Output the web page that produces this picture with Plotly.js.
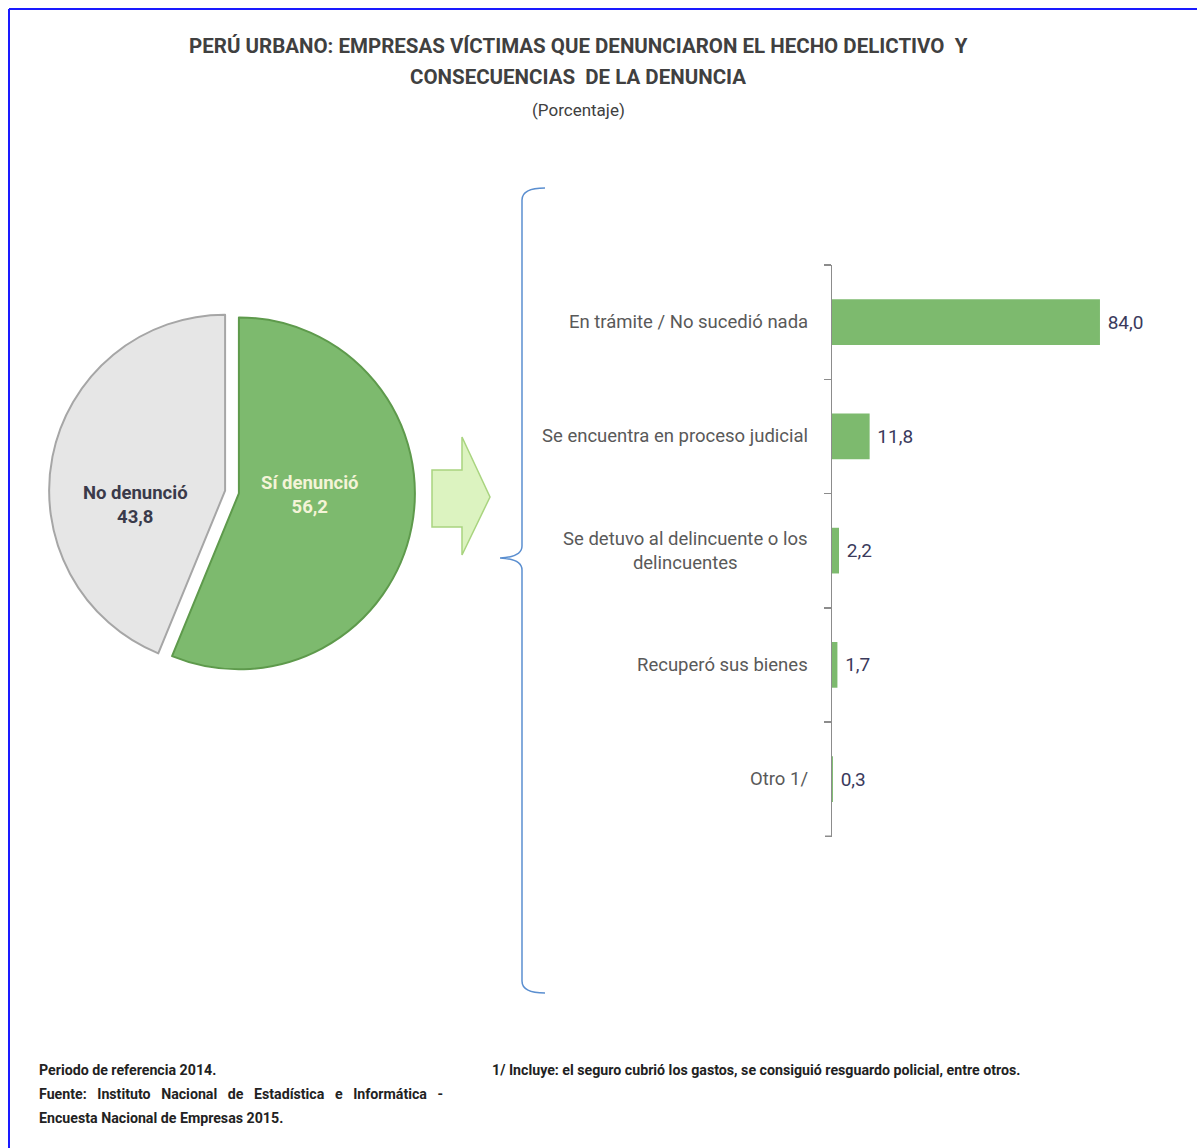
<!DOCTYPE html>
<html>
<head>
<meta charset="utf-8">
<script src="https://cdn.plot.ly/plotly-3.0.1.min.js"></script>
<style>html,body{margin:0;padding:0;background:#fff;}#chart{width:1197px;height:1148px;}</style>
</head>
<body>
<div id="chart"></div>
<script>
// ---- Data ----
const pieLabels = ["Sí denunció", "No denunció"];
const pieValues = [56.2, 43.8];
const barCategories = [
  "En trámite / No sucedió nada",
  "Se encuentra en proceso judicial",
  "Se detuvo al delincuente o los<br>delincuentes",
  "Recuperó sus bienes",
  "Otro 1/"
];
const barValues = [84.0, 11.8, 2.2, 1.7, 0.3];
const titleLines = ["PERÚ URBANO: EMPRESAS VÍCTIMAS QUE DENUNCIARON EL HECHO DELICTIVO  Y", "CONSECUENCIAS  DE LA DENUNCIA"];
const subtitle = "(Porcentaje)";
const footLeft = ["Periodo de referencia 2014.", "Fuente:   Instituto   Nacional   de   Estadística   e   Informática   -", "Encuesta Nacional de Empresas 2015."];
const footRight = "1/ Incluye: el seguro cubrió los gastos, se consiguió resguardo policial, entre otros.";

// ---- Helpers ----
const W = 1197, H = 1148;
const px = x => x / W;
const py = y => 1 - y / H;
const FONT = "Roboto, Liberation Sans, sans-serif";
const fmt = v => v.toFixed(1).replace('.', ',');
function pathFrom(cmds) {
  return cmds.map(c => {
    if (c.length === 1) return c[0];
    let s = c[0];
    for (let i = 1; i < c.length; i += 2) s += (i > 1 ? ' ' : '') + px(c[i]).toFixed(5) + ',' + py(c[i + 1]).toFixed(5);
    return s;
  }).join(' ');
}

const green = "#7dba6e";

const pieTrace = {
  type: "pie",
  labels: pieLabels,
  values: pieValues,
  sort: false,
  direction: "clockwise",
  rotation: 0,
  pull: [0.04, 0.04],
  textinfo: "none",
  hoverinfo: "label+value",
  marker: {colors: [green, "#e6e6e6"], line: {color: ["#5e9a4c", "#a6a6a6"], width: 2}},
  domain: {x: [px(48), px(416)], y: [py(675), py(309)]},
  showlegend: false
};

const barTrace = {
  type: "bar",
  orientation: "h",
  x: barValues,
  y: barCategories,
  xaxis: "x2",
  yaxis: "y2",
  width: 0.4,
  marker: {color: green},
  text: barValues.map(v => "\u00a0" + fmt(v)),
  textposition: "outside",
  cliponaxis: false,
  textfont: {family: FONT, size: 19, color: "#3a3a5c"},
  showlegend: false
};

const annotations = [];
annotations.push({xref: "paper", yref: "paper", x: px(578), y: py(46), text: "<b>" + titleLines[0] + "</b>", showarrow: false, font: {family: FONT, size: 20.5, color: "#404040"}, xanchor: "center", yanchor: "middle"});
annotations.push({xref: "paper", yref: "paper", x: px(578), y: py(77), text: "<b>" + titleLines[1] + "</b>", showarrow: false, font: {family: FONT, size: 20.5, color: "#404040"}, xanchor: "center", yanchor: "middle"});
annotations.push({xref: "paper", yref: "paper", x: px(578), y: py(110), text: subtitle, showarrow: false, font: {family: FONT, size: 17, color: "#404040"}, xanchor: "center", yanchor: "middle"});

// category labels (centered lines, right edge aligned to the axis)
barCategories.forEach(c => {
  annotations.push({xref: "paper", yref: "y2", x: px(810), y: c, text: c, showarrow: false, xanchor: "right", yanchor: "middle", align: "center",
    font: {family: FONT, size: 18.5, color: "#595959"}});
});

// pie labels
const pieLabelPos = [[310, 495, "#f4f4d8"], [135, 505, "#3a3a4a"]];
pieLabels.forEach((lab, i) => {
  annotations.push({xref: "paper", yref: "paper", x: px(pieLabelPos[i][0]), y: py(pieLabelPos[i][1]),
    text: "<b>" + lab + "<br>" + fmt(pieValues[i]) + "</b>", showarrow: false,
    font: {family: FONT, size: 18.5, color: pieLabelPos[i][2]}, xanchor: "center", yanchor: "middle"});
});

// footers
footLeft.forEach((t, i) => {
  annotations.push({xref: "paper", yref: "paper", x: px(37), y: py(1070 + i * 24), text: "<b>" + t + "</b>", showarrow: false,
    font: {family: FONT, size: 14.2, color: "#222222"}, xanchor: "left", yanchor: "middle"});
});
annotations.push({xref: "paper", yref: "paper", x: px(490), y: py(1070), text: "<b>" + footRight + "</b>", showarrow: false,
  font: {family: FONT, size: 14.2, color: "#222222"}, xanchor: "left", yanchor: "middle"});

const shapes = [
  // border
  {type: "line", xref: "paper", yref: "paper", x0: px(9), x1: 1, y0: py(9), y1: py(9), line: {color: "#1a1aff", width: 2}},
  {type: "line", xref: "paper", yref: "paper", x0: px(9), x1: px(9), y0: py(9), y1: 0, line: {color: "#1a1aff", width: 2}},
  // arrow
  {type: "path", xref: "paper", yref: "paper",
    path: pathFrom([["M", 432, 470], ["L", 462, 470], ["L", 462, 437], ["L", 490, 497], ["L", 462, 555], ["L", 462, 527], ["L", 432, 527], ["Z"]]),
    fillcolor: "#dcf3c0", line: {color: "#a9d47f", width: 1.5}},
  // brace
  {type: "path", xref: "paper", yref: "paper",
    path: pathFrom([["M", 545, 188], ["Q", 522, 188, 522, 200], ["L", 522, 546], ["Q", 522, 557, 500, 558], ["Q", 522, 559, 522, 570], ["L", 522, 981], ["Q", 522, 993, 545, 993]]),
    line: {color: "#5b8fd0", width: 1.5}},
  // closing tick at the bottom boundary of the category axis
  {type: "line", xref: "paper", yref: "y2", x0: px(825), x1: px(832), y0: barCategories.length - 0.5, y1: barCategories.length - 0.5, line: {color: "#8c8c8c", width: 1.5}}
];

const layout = {
  width: W, height: H,
  margin: {l: 0, r: 0, t: 0, b: 0},
  paper_bgcolor: "#ffffff",
  plot_bgcolor: "rgba(0,0,0,0)",
  separators: ",.",
  showlegend: false,
  xaxis2: {domain: [px(832), px(1151)], range: [0, 100], anchor: "y2", visible: false, fixedrange: true},
  yaxis2: {domain: [py(837), py(265)], anchor: "x2", type: "category", autorange: "reversed",
    showline: true, linecolor: "#8c8c8c", linewidth: 1.5,
    ticks: "outside", tickson: "boundaries", ticklen: 7, tickcolor: "#8c8c8c", tickwidth: 1.5,
    showticklabels: false,
    showgrid: false, zeroline: false},
  annotations: annotations,
  shapes: shapes
};

Plotly.newPlot("chart", [pieTrace, barTrace], layout, {displayModeBar: false, staticPlot: true});
</script>
</body>
</html>
